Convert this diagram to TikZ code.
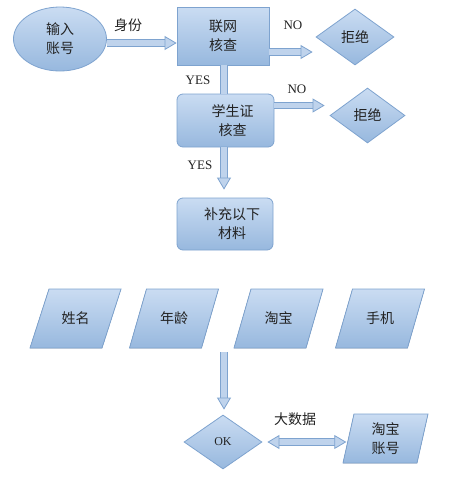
\documentclass[tikz,border=0pt]{standalone}
\usepackage{fontspec}
\setmainfont{Liberation Serif}
\newfontfamily\cjk{Noto Sans CJK SC}
\usetikzlibrary{arrows.meta,shapes.geometric}
\definecolor{bd}{HTML}{7EA3CF}
\definecolor{tp}{HTML}{CADCF2}
\definecolor{bt}{HTML}{97B8DE}
\definecolor{ar}{HTML}{BFD3EC}
\definecolor{tx}{HTML}{222222}
\tikzset{
  shp/.style={draw=bd, line width=0.8pt, top color=tp, bottom color=bt},
  box/.style={shp, font=\cjk\fontsize{14}{19}\selectfont, text=tx, align=center, inner sep=0pt},
  rbox/.style={box, rounded corners=6pt},
  dia/.style={box, diamond, inner sep=0pt},
  txt/.style={font=\cjk\fontsize{14}{19}\selectfont, text=tx, align=center, inner sep=0pt},
  lat/.style={font=\fontsize{13}{15}\selectfont, text=tx, inner sep=0pt},
  blkline/.style={draw=bd, line width=0.8pt, double=ar, double distance=5.5pt},
  blk/.style={blkline, -{Triangle[width=14pt,length=12pt,fill=ar]}},
  blkboth/.style={blkline, {Triangle[width=14pt,length=12pt,fill=ar]}-{Triangle[width=14pt,length=12pt,fill=ar]}},
}
\newcommand{\para}[7]{%
  \filldraw[shp] (#2-#4/2-#6/2, #3+#5/2) -- (#2+#4/2-#6/2, #3+#5/2) -- (#2+#4/2+#6/2, #3-#5/2) -- (#2-#4/2+#6/2, #3-#5/2) -- cycle;
  \node[txt, minimum width=#4pt, minimum height=#5pt] (#1) at (#2,#3) {#7};}
\begin{document}
\begin{tikzpicture}[x=1pt,y=-1pt]
\useasboundingbox (0,0) rectangle (448,480);
\node[box, ellipse, minimum width=93pt, minimum height=64pt] (in) at (60,39) {输入\\账号};
\node[box, minimum width=92pt, minimum height=58pt] (b1) at (223,36) {联网\\核查};
\node[dia, minimum width=78pt, minimum height=56pt] (d1) at (355,37) {拒绝};
\node[rbox, minimum width=97pt, minimum height=53pt] (b2) at (225.5,120.5) {\hspace*{14pt}学生证\\\hspace*{14pt}核查};
\node[dia, minimum width=75pt, minimum height=55pt] (d2) at (367.5,115.5) {拒绝};
\node[rbox, minimum width=96pt, minimum height=52pt] (b3) at (225,224) {\hspace*{14pt}补充以下\\\hspace*{14pt}材料};
\para{p1}{75.5}{318.5}{72}{59}{19}{姓名}
\para{p2}{174}{318.5}{72}{59}{17}{年龄}
\para{p3}{278.5}{318.5}{72}{59}{17}{淘宝}
\para{p4}{380}{318.5}{72}{59}{17}{手机}
\node[dia, minimum width=78pt, minimum height=54pt, font=\fontsize{12}{14}\selectfont] (ok) at (223,442) {OK};
\para{p5}{385.5}{438.5}{74}{49}{11}{淘宝\\账号}
\coordinate (top) at (224,352);
% labels
\node[txt] (l1) at (128,25) {身份};
\node[lat] (l2) at (293,25) {NO};
\node[lat] (l3) at (198,80) {YES};
\node[lat] (l4) at (297,89) {NO};
\node[lat] (l5) at (200,165) {YES};
\node[txt] (l6) at (295,419) {大数据};
% connectors
\draw[blk] ([yshift=-4pt]in.east) -- ([yshift=-4pt]in.east -| b1.west);
\draw[blk, shorten >=3pt] ([yshift=-16pt]b1.east) -- ([yshift=-16pt]b1.east -| d1.west);
\draw[blkline] ([xshift=1pt]b1.south) -- ([xshift=1pt]b1.south |- b2.north);
\draw[blk, shorten >=5pt] ([yshift=15pt]b2.east) -- ([yshift=15pt]b2.east -| d2.west);
\draw[blk, shorten >=8pt] ([xshift=-1.5pt]b2.south) -- ([xshift=-1.5pt]b2.south |- b3.north);
\draw[blk, shorten >=5pt] (top) -- (top |- ok.north);
\draw[blkboth, shorten <=5pt, shorten >=2pt] (ok.east) -- (ok.east -| p5.west);
\end{tikzpicture}
\end{document}
